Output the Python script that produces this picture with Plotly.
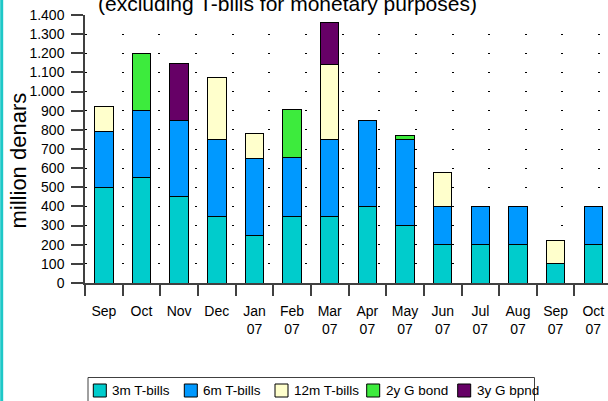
import plotly.graph_objects as go

months = ["Sep", "Oct", "Nov", "Dec", "Jan<br>07", "Feb<br>07", "Mar<br>07",
          "Apr<br>07", "May<br>07", "Jun<br>07", "Jul<br>07", "Aug<br>07",
          "Sep<br>07", "Oct<br>07"]
t3m = [500, 550, 450, 350, 250, 350, 350, 400, 300, 200, 200, 200, 100, 200]
t6m = [290, 350, 400, 400, 400, 305, 400, 450, 450, 200, 200, 200, 0, 200]
t12m = [130, 0, 0, 325, 130, 0, 390, 0, 0, 175, 0, 0, 120, 0]
g2y = [0, 300, 0, 0, 0, 250, 0, 0, 18, 0, 0, 0, 0, 0]
g3y = [0, 0, 295, 0, 0, 0, 220, 0, 0, 0, 0, 0, 0, 0]

series_names = ["3m T-bills", "6m T-bills", "12m T-bills", "2y G bond", "3y G bpnd"]
series_values = [t3m, t6m, t12m, g2y, g3y]
series_colors = ["#00CCCC", "#0099FF", "#FFFFCC", "#3DEB3D", "#660066"]

FONT = "Liberation Sans, Arial, sans-serif"
W, H = 608, 401
L, R, T, B = 85, 0, 15, 118
pw = W - L - R
ph = H - T - B
cat_w = 37.65
BOTTOM = H - B


def px_x(px):
    return (px - L) / pw


def px_y(py):
    return (BOTTOM - py) / ph


fig = go.Figure()
for name, vals, col in zip(series_names, series_values, series_colors):
    fig.add_trace(go.Bar(
        x=months, y=vals, name=name,
        marker=dict(color=col, line=dict(color="#000000", width=1)),
    ))

fig.update_layout(
    width=W, height=H,
    margin=dict(l=L, r=R, t=T, b=B, autoexpand=False),
    paper_bgcolor="white", plot_bgcolor="white",
    barmode="stack", bargap=0.51,
    separators=",.",
    font=dict(family=FONT, size=14, color="#000000"),
    showlegend=False,
)

fig.update_xaxes(
    type="category", range=[-0.5, -0.5 + pw / cat_w],
    showline=True, linecolor="#404040", linewidth=1.5,
    ticks="outside", tickson="boundaries", ticklen=11, tickcolor="#404040",
    tickwidth=1.5, showgrid=False, tickfont=dict(size=14),
    ticklabelstandoff=14,
)
fig.update_yaxes(
    range=[0, 1400], dtick=100, tickformat=",d",
    showline=True, linecolor="#404040", linewidth=1.5,
    ticks="outside", ticklen=12, tickcolor="#404040", tickwidth=1.5,
    showgrid=True, gridcolor="#000000", gridwidth=1,
    griddash="2px,34.65px", zeroline=False, tickfont=dict(size=14),
    ticklabelstandoff=4,
)

# title (partially cut at the top, as in the reference)
fig.add_annotation(
    text="(excluding T-bills for monetary purposes)",
    xref="paper", yref="paper",
    x=px_x(287), y=px_y(3.5),
    xanchor="center", yanchor="middle", showarrow=False,
    font=dict(size=21, family=FONT, color="#000000"),
)
# y-axis title
fig.add_annotation(
    text="million denars", textangle=-90,
    xref="paper", yref="paper",
    x=px_x(17.5), y=px_y(161),
    xanchor="center", yanchor="middle", showarrow=False,
    font=dict(size=22, family=FONT, color="#000000"),
)
# teal frame edge on the left
fig.add_shape(
    type="line", xref="paper", yref="paper",
    x0=px_x(1.7), x1=px_x(1.7), y0=px_y(H + 2), y1=px_y(-2),
    line=dict(color="#1EC8C8", width=3),
)

# legend box (drawn like the reference's boxed legend)
fig.add_shape(
    type="rect", xref="paper", yref="paper",
    x0=px_x(88), x1=px_x(534.5), y0=px_y(377.5), y1=px_y(403),
    line=dict(color="#404040", width=1), fillcolor="white",
)
sw_left = [93.3, 184.3, 275, 366.7, 457.7]
for name, col, sx in zip(series_names, series_colors, sw_left):
    fig.add_shape(
        type="rect", xref="paper", yref="paper",
        x0=px_x(sx), x1=px_x(sx + 13), y0=px_y(397), y1=px_y(384),
        line=dict(color="#000000", width=1), fillcolor=col,
    )
    fig.add_annotation(
        text=name, xref="paper", yref="paper",
        x=px_x(sx + 17), y=px_y(390.7),
        xanchor="left", yanchor="middle", showarrow=False,
        font=dict(size=13.5, family=FONT, color="#000000"),
    )

fig.write_html(
    "out.html",
    config={"displayModeBar": False},
    post_script="document.body.style.margin='0px';document.body.style.padding='0px';",
)
